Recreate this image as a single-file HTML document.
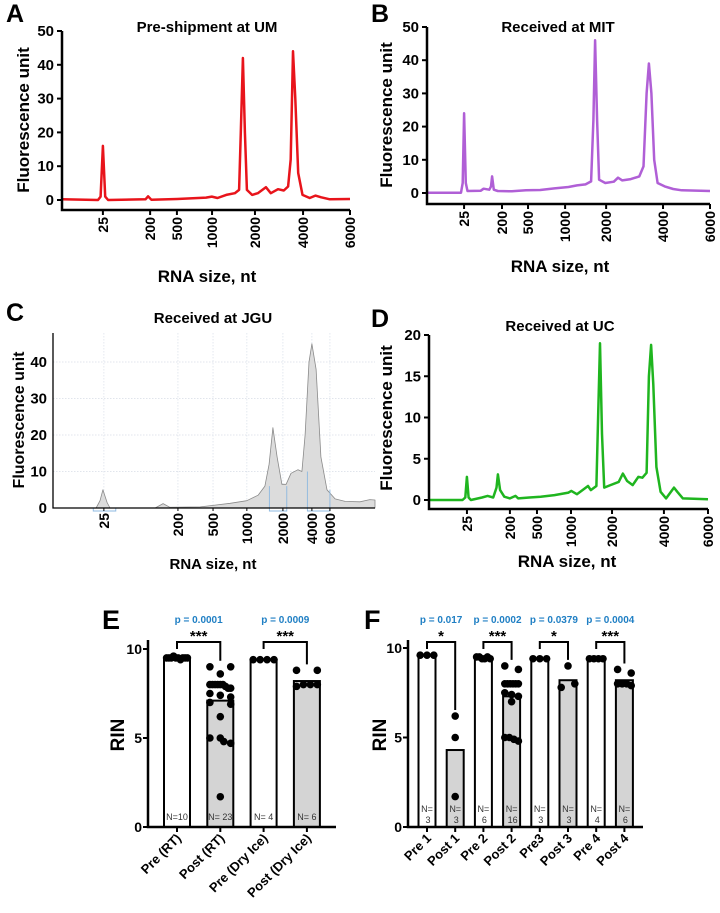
<!DOCTYPE html>
<html><head><meta charset="utf-8"><style>
html,body{margin:0;padding:0;background:#fff}
svg{display:block;font-family:"Liberation Sans",Arial,sans-serif}
</style></head><body>
<svg id="fig" width="720" height="913" viewBox="0 0 720 913" xmlns="http://www.w3.org/2000/svg"></svg>
<script>
// ---------- Electropherogram data (t = migration position 0..100 along axis, y = fluorescence) ----------
const sizeLabels = ["25","200","500","1000","2000","4000","6000"];
const tickTA = [14.2,30.6,39.9,52.1,67.0,83.7,100];
const tickTB = [13.1,26.5,35.7,48.8,63.3,83.4,100];
const tickTC = [15.8,38.8,49.7,60.2,71.4,80.4,86.0];
const tickTD = [13.6,29.0,38.7,50.9,65.6,84.2,100];

const aT = [0,12.5,13.4,14.2,15.0,16,29,29.9,31,40,50,52,54,57,60,61.5,62.1,62.8,63.5,64.2,66,68,70.8,72.5,75,77,78.5,79.4,80.2,81,82,83.5,86,88,90,93,100];
const aY = [0.2,0,1,16,1,0,0.2,1.1,0.1,0.3,0.7,1.0,0.6,1.5,2,3,20,42,20,3,1.5,2,3.8,2,3.2,2.8,4,12,44,30,8,1.5,0.6,1.3,0.8,0.2,0.3];

const bT = [0,12,12.6,13.1,13.7,14.3,19,20,22,22.6,23,23.6,25,30,35,40,45,50,53,56,58,58.8,59.4,60.1,60.8,63,66,67.5,69,72,75,76.5,77.6,78.4,79.3,80.3,81.5,84,87,90,100];
const bY = [0.1,0.1,3,24,3,0.6,0.7,1.3,1,2,5,1,0.6,0.5,0.8,0.9,1.4,1.8,2.3,2.6,3.5,22,46,22,4,3,3.4,4.6,3.8,4.2,5,8,30,39,30,10,3,2,1.2,0.8,0.6];

const cT = [0,13.4,14.6,15.5,16.8,17.7,31.7,34.2,36.3,45.7,50.3,55,60.2,63.7,65.8,67.1,68.3,69.6,71.1,72.4,73.9,76.1,77.3,78.3,79.5,80.4,81.7,83.2,85.1,87.6,90.7,95.3,98.4,100];
const cY = [0,0,2,5,1.5,0,0,1.2,0.2,0.3,0.8,1.3,2,3.5,6,12,22,14,6.5,6.5,9.5,10.5,10,20,40,45,38,14,5,2.5,1.8,1.7,2.3,2.2];

const dT = [0,12,13,13.6,14.2,15,19,21,23,24.2,24.7,25.5,27,29,31,32,36,40,45,50,51,53,55,57,58,60,60.6,61.3,62,62.8,65,68,69.5,71,73,75,76.5,78,78.8,79.6,80.4,81.5,83,85,87.8,89,91,100];
const dY = [0,0,0.3,2.8,0.3,0,0.3,0.5,0.3,1.5,3.1,1.2,0.4,0.2,0.5,0.2,0.3,0.4,0.6,0.9,1.1,0.7,1.2,1.7,1.2,1.7,10,19,8,1.5,1.8,2.2,3.2,2.3,1.8,2.8,2.7,3.3,15,18.8,14,4,1,0.2,1.5,1,0.2,0.1];

// ---------- Bar chart data ----------
const eCats = ["Pre (RT)","Post (RT)","Pre (Dry Ice)","Post (Dry Ice)"];
const eMeans = [9.5,7.1,9.4,8.2];
const eN = ["N=10","N= 23","N= 4","N= 6"];
const ePts = [
 [9.5,9.5,9.5,9.6,9.5,9.5,9.4,9.5,9.5,9.5],
 [9,9,8.6,8,8,8,8,8,8,7.9,7.8,7.8,7.5,7.4,7.3,7.0,6.9,6.2,5,5,4.8,4.7,1.7],
 [9.4,9.4,9.4,9.4],
 [8.8,8.8,7.9,8.0,8.0,8.0]];
const ePvals = ["p = 0.0001","p = 0.0009"];
const eStars = ["***","***"];

const fCats = ["Pre 1","Post 1","Pre 2","Post 2","Pre3","Post 3","Pre 4","Post 4"];
const fMeans = [9.6,4.3,9.4,7.3,9.4,8.2,9.4,8.2];
const fN = ["3","3","6","16","3","3","4","6"];
const fPts = [
 [9.6,9.6,9.6],[6.2,5.0,1.7],
 [9.5,9.5,9.4,9.4,9.5,9.4],
 [9,8.8,8,8,8,8,8,8,7.5,7.4,7.3,7.0,5,5,4.9,4.8],
 [9.4,9.4,9.4],[9,7.8,8.0],
 [9.4,9.4,9.4,9.4],[8.8,8.6,8,8,8,7.9]];
const fPvals = ["p = 0.017","p = 0.0002","p = 0.0379","p = 0.0004"];
const fStars = ["*","***","*","***"];

const NS="http://www.w3.org/2000/svg";
const svg=document.getElementById('fig');
function el(tag,attrs,parent){const e=document.createElementNS(NS,tag);for(const k in attrs)e.setAttribute(k,attrs[k]);(parent||svg).appendChild(e);return e;}
function txt(s,attrs,parent){const e=el('text',attrs,parent);e.textContent=s;return e;}
function grp(name){const g=el('g',{});return g;}

function epg(cfg){
  const g=grp(cfg.name);
  const sx=t=>cfg.x0+(cfg.x1-cfg.x0)*t/100;
  const sy=v=>cfg.yZero-v*cfg.yPer;
  const letter=txt(cfg.letter,{x:cfg.lx,y:cfg.ly,'font-size':25,'font-weight':'bold'},g);
  
  const title=txt(cfg.title,{x:cfg.tx,y:cfg.ty,'font-size':15,'font-weight':'bold','text-anchor':'middle'},g);
  
  if(cfg.gray){
    cfg.yTicks.forEach(v=>{if(v>0){const l=el('line',{x1:cfg.x0,x2:cfg.x1,y1:sy(v),y2:sy(v),stroke:'#d8dde6','stroke-width':0.8,'stroke-dasharray':'1.5,1.5'},g);}});
    cfg.ticks.forEach(t=>{const l=el('line',{x1:sx(t),x2:sx(t),y1:cfg.axisY-175,y2:cfg.axisY,stroke:'#dde3ec','stroke-width':0.8,'stroke-dasharray':'1.5,1.5'},g);});
    let d='M'+sx(cfg.T[0])+','+sy(0);
    cfg.T.forEach((t,i)=>{d+=' L'+sx(t).toFixed(1)+','+sy(cfg.Y[i]).toFixed(1);});
    d+=' L'+sx(cfg.T[cfg.T.length-1])+','+sy(0)+' Z';
    const a=el('path',{d:d,fill:'#dcdcdc',stroke:'#8a8a8a','stroke-width':0.8,'stroke-linejoin':'round'},g);
    
    cfg.boxes.forEach(bx=>{
      const xa=sx(bx[0]),xb=sx(bx[1]),yb=cfg.axisY+3;
      const p=el('path',{d:`M${xa},${cfg.axisY-bx[2]*cfg.yPer} V${yb} H${xb} V${cfg.axisY-bx[3]*cfg.yPer}`,fill:'none',stroke:'#8db8e0','stroke-width':0.9},g);
      });
    const ax=el('path',{d:`M${cfg.x0},${cfg.axisY-175} V${cfg.axisY} H${cfg.x1}`,fill:'none',stroke:'#000','stroke-width':1.3},g);
    
  } else {
    let d='';
    cfg.T.forEach((t,i)=>{d+=(i?' L':'M')+sx(t).toFixed(1)+','+sy(cfg.Y[i]).toFixed(1);});
    const p=el('path',{d:d,fill:'none',stroke:cfg.color,'stroke-width':2.5,'stroke-linejoin':'round'},g);
    
    const ax=el('path',{d:`M${cfg.x0},${sy(cfg.yTicks[cfg.yTicks.length-1])} V${cfg.axisY} H${cfg.x1}`,fill:'none',stroke:'#000','stroke-width':2.5},g);
    
  }
  cfg.yTicks.forEach(v=>{
    if(!cfg.gray){const l=el('line',{x1:cfg.x0-5,x2:cfg.x0,y1:sy(v),y2:sy(v),stroke:'#000','stroke-width':2},g);}
    const t=txt(String(v),{x:cfg.x0-(cfg.gray?6:8),y:sy(v)+5,'font-size':15,'font-weight':'bold','text-anchor':'end'},g);
    
  });
  cfg.ticks.forEach((t,i)=>{
    const x=sx(t);
    const l=el('line',{x1:x,x2:x,y1:cfg.axisY,y2:cfg.axisY+(cfg.gray?3:5),stroke:'#000','stroke-width':cfg.gray?1:2},g);
    
    const lb=txt(sizeLabels[i],{x:0,y:0,'font-size':14,'font-weight':'bold','text-anchor':'end',transform:`translate(${x+5},${cfg.axisY+(cfg.gray?5:7)}) rotate(-90)`},g);
    
  });
  const yt=txt('Fluorescence unit',{x:0,y:0,'font-size':cfg.gray?16:17,'font-weight':'bold','text-anchor':'middle',transform:`translate(${cfg.ytx},${cfg.yty}) rotate(-90)`},g);
  
  const xt=txt('RNA size, nt',{x:cfg.xtx,y:cfg.xty,'font-size':cfg.gray?15:17,'font-weight':'bold','text-anchor':'middle'},g);
  
}

epg({name:'panel-a',letter:'A',lx:6,ly:22,title:'Pre-shipment at UM',tx:207,ty:32,x0:62,x1:350,yZero:200,yPer:3.38,axisY:210,
  yTicks:[0,10,20,30,40,50],ticks:tickTA,T:aT,Y:aY,color:'#e8141b',ytx:29,yty:120,xtx:207,xty:282});
epg({name:'panel-b',letter:'B',lx:371,ly:22,title:'Received at MIT',tx:558,ty:32,x0:427,x1:710,yZero:193,yPer:3.32,axisY:204,
  yTicks:[0,10,20,30,40,50],ticks:tickTB,T:bT,Y:bY,color:'#b05fd6',ytx:392,yty:115,xtx:560,xty:272});
epg({name:'panel-c',letter:'C',lx:6,ly:321,title:'Received at JGU',tx:213,ty:323,x0:53,x1:375,yZero:508,yPer:3.65,axisY:508,gray:true,
  yTicks:[0,10,20,30,40],ticks:tickTC,T:cT,Y:cY,boxes:[[12.5,19.5,0,0],[67.2,72.6,6,6],[79.0,86.0,10,5]],ytx:24,yty:420,xtx:213,xty:569});
epg({name:'panel-d',letter:'D',lx:371,ly:327,title:'Received at UC',tx:560,ty:331,x0:429,x1:708,yZero:500,yPer:8.25,axisY:509,
  yTicks:[0,5,10,15,20],ticks:tickTD,T:dT,Y:dY,color:'#1fb51f',ytx:392,yty:418,xtx:567,xty:567});

function bars(cfg){
  const g=grp(cfg.name);
  const sy=v=>cfg.yZero-v*cfg.yPer;
  const cx=i=>cfg.c0+i*cfg.step;
  const letter=txt(cfg.letter,{x:cfg.lx,y:cfg.ly,'font-size':27,'font-weight':'bold'},g);
  
  cfg.means.forEach((m,i)=>{
    const r=el('rect',{x:cx(i)-cfg.bw/2,y:sy(m),width:cfg.bw,height:sy(0)-sy(m),fill:i%2?'#d4d4d4':'#fff',stroke:'#000','stroke-width':2},g);
    
  });
  cfg.pts.forEach((arr,i)=>{
    const spread=cfg.bw*0.4;
    arr.forEach((v,k)=>{
      const same=arr.filter(w=>Math.abs(w-v)<0.25);
      const idx=arr.slice(0,k).filter(w=>Math.abs(w-v)<0.25).length;
      const o=same.length>1?(-spread+2*spread*idx/(same.length-1)):0;
      const c=el('circle',{cx:cx(i)+o,cy:sy(v),r:3.8,fill:'#000'},g);
      
    });
  });
  const ax=el('path',{d:`M${cfg.ax},${cfg.yTop} V${sy(0)} H${cfg.axEnd}`,fill:'none',stroke:'#000','stroke-width':2.5},g);
  
  [0,5,10].forEach(v=>{
    const l=el('line',{x1:cfg.ax-5,x2:cfg.ax,y1:sy(v),y2:sy(v),stroke:'#000','stroke-width':2},g);
    
    const t=txt(String(v),{x:cfg.ax-6,y:sy(v)+5,'font-size':14,'font-weight':'bold','text-anchor':'end'},g);
    
  });
  const yt=txt('RIN',{x:0,y:0,'font-size':19,'font-weight':'bold','text-anchor':'middle',transform:`translate(${cfg.ytx},735) rotate(-90)`},g);
  
  cfg.cats.forEach((c,i)=>{
    const l=el('line',{x1:cx(i),x2:cx(i),y1:sy(0),y2:sy(0)+5,stroke:'#000','stroke-width':2},g);
    
    const t=txt(c,{x:0,y:0,'font-size':13,'font-weight':'bold','text-anchor':'end',transform:`translate(${cx(i)+5},${sy(0)+12}) rotate(-45)`},g);
    
    if(cfg.twoLineN){
      const a=txt('N=',{x:cx(i),y:sy(0)-15,'font-size':9,fill:'#333','text-anchor':'middle'},g);
      
      const b=txt(cfg.nl[i],{x:cx(i)+1,y:sy(0)-4,'font-size':9,fill:'#333','text-anchor':'middle'},g);
      
    } else {
      const a=txt(cfg.nl[i],{x:cx(i),y:sy(0)-7,'font-size':9,fill:'#333','text-anchor':'middle'},g);
      
    }
  });
  cfg.pv.forEach((p,j)=>{
    const i0=2*j,i1=2*j+1;
    const xm=(cx(i0)+cx(i1))/2;
    const topR=Math.max(...cfg.pts[i1]);
    const br=el('path',{d:`M${cx(i0)},${cfg.brY+7} V${cfg.brY} H${cx(i1)} V${Math.min(sy(topR)-6,sy(cfg.means[i1])-4)}`,fill:'none',stroke:'#000','stroke-width':2},g);
    
    const s=txt(cfg.stars[j],{x:xm,y:cfg.brY-1,'font-size':15,'font-weight':'bold','text-anchor':'middle'},g);
    
    const pt=txt(p,{x:xm,y:623,'font-size':10,'font-weight':'bold',fill:'#1f7fc4','text-anchor':'middle'},g);
    
  });
}
bars({name:'panel-e',letter:'E',lx:102,ly:629,cats:eCats,means:eMeans,pts:ePts,nl:eN,pv:ePvals,stars:eStars,
  yZero:827,yPer:17.8,yTop:640,ax:148,axEnd:336,c0:177,step:43.3,bw:26,ytx:124,brY:642,twoLineN:false});
bars({name:'panel-f',letter:'F',lx:364,ly:629,cats:fCats,means:fMeans,pts:fPts,nl:fN,pv:fPvals,stars:fStars,
  yZero:827,yPer:17.9,yTop:640,ax:408,axEnd:643,c0:427,step:28.2,bw:17,ytx:386,brY:642,twoLineN:true});
</script>
</body></html>
